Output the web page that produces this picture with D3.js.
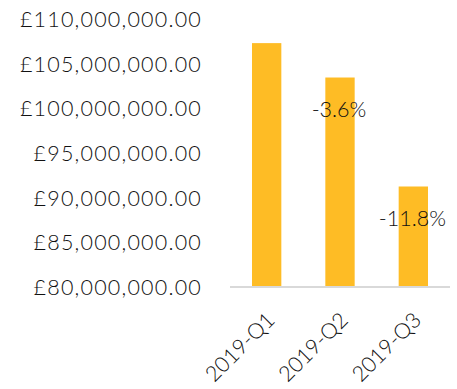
<!DOCTYPE html>
<html>
<head>
<meta charset="utf-8">
<script src="https://cdn.jsdelivr.net/npm/d3@7"></script>
<style>
  html, body { margin: 0; padding: 0; background: #fff; }
  svg text { font-family: Lato, "Open Sans", sans-serif; font-weight: 300; fill: #111; }
</style>
</head>
<body>
<svg id="chart" width="457" height="389"></svg>
<script>
// Quarterly totals (GBP) and quarter-on-quarter change labels
const quarters = ["2019-Q1", "2019-Q2", "2019-Q3"];
const totals = [107300000, 103450000, 91250000];
const changeLabels = ["", "-3.6%", "-11.8%"];
const yTicks = [80000000, 85000000, 90000000, 95000000, 100000000, 105000000, 110000000];

const svg = d3.select("#chart");
const margin = { left: 230, right: 7, top: 19, bottom: 102 };
const width = 457 - margin.left - margin.right;
const height = 389 - margin.top - margin.bottom;

const g = svg.append("g").attr("transform", `translate(${margin.left},${margin.top})`);

const x = d3.scaleBand().domain(quarters).range([0, width]).paddingInner(0.6).paddingOuter(0.3);
const y = d3.scaleLinear().domain([80000000, 110000000]).range([height, 0]);

const fmt = v => "£" + d3.format(",.2f")(v);

// y-axis labels only (no domain line or ticks)
const yAxis = g.append("g")
  .call(d3.axisLeft(y).tickValues(yTicks).tickFormat(fmt).tickSize(0).tickPadding(28));
yAxis.select(".domain").remove();
yAxis.selectAll("text")
  .style("font-size", "21.5px")
  .style("letter-spacing", "1.2px")
  .attr("dy", "0.35em");

// bars
g.selectAll("rect.bar")
  .data(quarters)
  .join("rect")
  .attr("class", "bar")
  .attr("x", d => x(d))
  .attr("width", x.bandwidth())
  .attr("y", (d, i) => y(totals[i]))
  .attr("height", (d, i) => height - y(totals[i]))
  .attr("fill", "#FEBC25");

// baseline
g.append("line")
  .attr("x1", 0).attr("x2", width)
  .attr("y1", height).attr("y2", height)
  .attr("stroke", "#d9d9d9").attr("stroke-width", 2);

// change labels inside bar tops
g.selectAll("text.chg")
  .data(quarters)
  .join("text")
  .attr("class", "chg")
  .attr("x", d => x(d) + x.bandwidth() / 2 - 1)
  .attr("y", (d, i) => y(totals[i]) + 32)
  .attr("dy", "0.35em")
  .attr("text-anchor", "middle")
  .style("font-size", "21.5px")
  .text((d, i) => changeLabels[i]);

// x-axis labels, rotated
const xAxis = g.append("g")
  .attr("transform", `translate(0,${height})`)
  .call(d3.axisBottom(x).tickSize(0).tickPadding(0));
xAxis.select(".domain").remove();
xAxis.selectAll("text")
  .style("font-size", "21.5px")
  .attr("text-anchor", "end")
  .attr("dy", "0.35em")
  .attr("transform", "translate(4,29) rotate(-45)");
</script>
</body>
</html>
